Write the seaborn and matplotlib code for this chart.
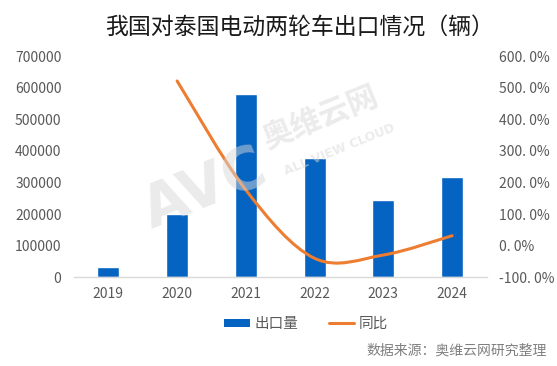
import matplotlib
matplotlib.use("Agg")
import matplotlib.pyplot as plt
import seaborn as sns
import pandas as pd
import numpy as np
from matplotlib.path import Path
from matplotlib.patches import PathPatch, Patch
from matplotlib.lines import Line2D

# ---- data ----
years = ["2019", "2020", "2021", "2022", "2023", "2024"]
exports = [32600, 200000, 581000, 377000, 245000, 317000]
yoy_years = ["2020", "2021", "2022", "2023", "2024"]
yoy_pct = [521.0, 176.0, -40.0, -29.5, 31.6]
left_ticks = [0, 100000, 200000, 300000, 400000, 500000, 600000, 700000]
right_ticks = [-100, 0, 100, 200, 300, 400, 500, 600]
right_labels = ["-100. 0%", "0. 0%", "100. 0%", "200. 0%", "300. 0%", "400. 0%", "500. 0%", "600. 0%"]
title = "我国对泰国电动两轮车出口情况（辆）"
source = "数据来源：奥维云网研究整理"

BLUE = "#0563C1"
ORANGE = "#ED7D31"
GRAY = "#595959"

sns.set_theme(style="white")
plt.rcParams["font.family"] = ["Noto Sans CJK SC", "DejaVu Sans"]

fig = plt.figure(figsize=(5.57, 3.66), dpi=100)
ax = fig.add_axes([74 / 557, 1 - 277.3 / 366, (486.5 - 74) / 557, (277.3 - 56) / 366])

df = pd.DataFrame({"year": years, "exports": exports})
sns.barplot(data=df, x="year", y="exports", color=BLUE, saturation=1, width=0.32, ax=ax)
ax.set_xlim(-0.5, len(years) - 0.5)
ax.set_ylim(0, 700000)
ax.set_yticks(left_ticks)
ax.set_yticklabels([str(t) for t in left_ticks])
ax.set_xlabel("")
ax.set_ylabel("")
for s in ["top", "left", "right"]:
    ax.spines[s].set_visible(False)
ax.spines["bottom"].set_color("#D9D9D9")
ax.spines["bottom"].set_linewidth(1.0)
ax.tick_params(axis="both", length=0, labelsize=10, colors=GRAY)
ax.tick_params(axis="y", pad=9)
ax.tick_params(axis="x", pad=7)

# ---- secondary axis with smoothed line ----
ax2 = ax.twinx()
ax2.set_ylim(-100, 600)
ax2.set_yticks(right_ticks)
ax2.set_yticklabels(right_labels)
ax2.tick_params(axis="y", length=0, labelsize=10, colors=GRAY, pad=9)
for s in ["top", "left", "right", "bottom"]:
    ax2.spines[s].set_visible(False)
ax2.grid(False)
ax.grid(False)

xs = [years.index(y) for y in yoy_years]
pts = list(zip(xs, yoy_pct))
verts = [pts[0]]
codes = [Path.MOVETO]
n = len(pts)
for i in range(n - 1):
    p_prev = pts[i - 1] if i > 0 else pts[i]
    p0 = pts[i]
    p1 = pts[i + 1]
    p_next = pts[i + 2] if i + 2 < n else pts[i + 1]
    c1 = (p0[0] + (p1[0] - p_prev[0]) / 6, p0[1] + (p1[1] - p_prev[1]) / 6)
    c2 = (p1[0] - (p_next[0] - p0[0]) / 6, p1[1] - (p_next[1] - p0[1]) / 6)
    verts += [c1, c2, p1]
    codes += [Path.CURVE4] * 3
path = Path(verts, codes)
ax2.add_patch(PathPatch(path, facecolor="none", edgecolor=ORANGE, linewidth=2.2,
                        capstyle="round", joinstyle="round", zorder=5))

# ---- watermark ----
wm = dict(color="#D8D8D8", alpha=0.5, zorder=10, transform=fig.transFigure,
          ha="center", va="center", rotation=22)
fig.text(205 / 557, 1 - 190 / 366, "AVC", fontsize=42, fontweight="bold", family="DejaVu Sans", **wm)
fig.text(320 / 557, 1 - 118 / 366, "奥维云网", fontsize=22, fontweight="bold", **wm)
fig.text(340 / 557, 1 - 150 / 366, "ALL VIEW CLOUD", fontsize=9, fontweight="bold", family="DejaVu Sans", **wm)

# ---- title ----
fig.text(300 / 557, 1 - 27 / 366, title, fontsize=16.5, color="#1a1a1a", ha="center", va="center")

# ---- legend ----
handles = [Patch(facecolor=BLUE, edgecolor="none", label="出口量"),
           Line2D([0], [0], color=ORANGE, linewidth=2.2, label="同比")]
leg = fig.legend(handles=handles, loc="center", bbox_to_anchor=(306 / 557, 1 - 324 / 366),
                 ncol=2, frameon=False, fontsize=10.5, handlelength=1.75, handleheight=0.45,
                 handletextpad=0.3, columnspacing=2.1)
for t in leg.get_texts():
    t.set_color(GRAY)

# ---- source ----
fig.text(547 / 557, 1 - 351 / 366, source, fontsize=10, color="#7F7F7F", ha="right", va="center")

fig.savefig("out.png", dpi=100)
